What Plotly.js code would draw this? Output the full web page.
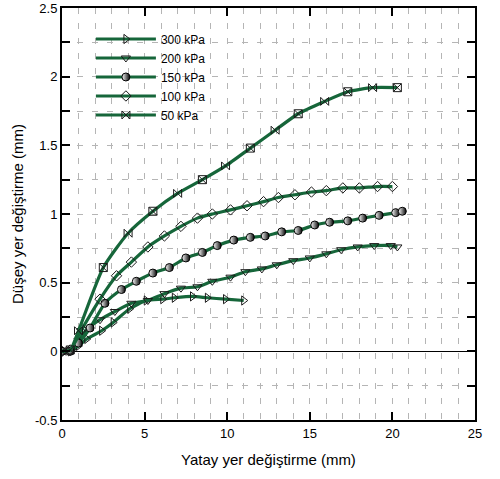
<!DOCTYPE html>
<html><head><meta charset="utf-8">
<script src="https://cdn.plot.ly/plotly-3.0.1.min.js"></script>
<style>html,body{margin:0;padding:0;background:#fff}#c{width:500px;height:479px}</style>
</head><body><div id="c"></div>
<script>
const names = ["300 kPa","200 kPa","150 kPa","100 kPa","50 kPa"];
const x300 = [0,0.5,1.0,1.5,2.4,3.1,4.1,5.1,6.1,6.8,7.9,8.8,9.9,11.0];
const y300 = [0,0.0,0.04,0.09,0.15,0.21,0.31,0.37,0.38,0.39,0.40,0.39,0.38,0.37];
const x200 = [0,0.5,1.0,1.5,2.3,3.2,4.2,5.2,6.2,7.2,8.2,9.1,10.2,11.1,12.1,13.0,14.0,15.0,16.0,16.9,17.9,18.9,19.9,20.3];
const y200 = [0,0.0,0.08,0.16,0.23,0.29,0.35,0.37,0.42,0.46,0.47,0.51,0.54,0.58,0.60,0.63,0.66,0.68,0.71,0.74,0.76,0.77,0.77,0.76];
const x150 = [0,0.5,1.0,1.7,2.6,3.6,4.5,5.5,6.5,7.5,8.5,9.4,10.4,11.4,12.3,13.3,14.3,15.3,16.2,17.3,18.2,19.2,20.2,20.6];
const y150 = [0,0.0,0.06,0.17,0.35,0.45,0.51,0.57,0.61,0.68,0.72,0.77,0.81,0.83,0.84,0.87,0.88,0.92,0.94,0.95,0.97,0.99,1.01,1.02];
const x100 = [0,0.5,1.2,2.3,3.3,4.2,5.2,6.2,7.2,8.2,9.1,10.2,11.2,12.2,13.1,14.1,15.1,16.0,17.0,18.0,19.1,20.0];
const y100 = [0,0.01,0.16,0.38,0.55,0.65,0.76,0.84,0.91,0.97,1.00,1.03,1.06,1.09,1.12,1.14,1.16,1.17,1.19,1.19,1.20,1.20];
const x50 = [0,0.5,1.0,2.5,4.0,5.5,7.0,8.5,9.9,11.4,12.9,14.3,15.9,17.3,18.8,20.3];
const y50 = [0,0.01,0.15,0.61,0.86,1.02,1.15,1.25,1.35,1.48,1.61,1.73,1.82,1.89,1.92,1.92];
const xTickVals = [0,5,10,15,20,25];
const yTickVals = [-0.5,0,0.5,1,1.5,2,2.5];

const green = "#16663a";
function tr(name, x, y, marker, lw) {
  return {x: x, y: y, name: name, type: "scatter", mode: "lines+markers",
    line: {color: green, width: lw, shape: "spline", smoothing: 0.6}, marker: marker};
}
const openM = (sym) => ({symbol: sym, size: 8, color: "#1a1a1a", line: {width: 1}});
const data = [
  tr(names[0], x300, y300, openM("triangle-right-open"), 3.2),
  tr(names[1], x200, y200, openM("triangle-down-open"), 3.2),
  tr(names[2], x150, y150, {symbol: "circle", size: 8, color: "white",
      gradient: {type: "horizontal", color: "black"}, line: {color: "#000", width: 1}}, 3.2),
  tr(names[3], x100, y100, openM("diamond-open"), 3.2),
  tr(names[4], x50, y50, openM(x50.map((v,i)=> i%2 ? "square-x-open" : "bowtie-open")), 3.2)
];

const gridDash = "6px,9px";
const layout = {
  width: 500, height: 479,
  margin: {l: 62, r: 25, t: 8, b: 59},
  paper_bgcolor: "white", plot_bgcolor: "white",
  font: {family: "Liberation Sans, Arial, sans-serif", color: "#000"},
  showlegend: true,
  legend: {x: 0.07, y: 0.96, xanchor: "left", yanchor: "top", bgcolor: "rgba(0,0,0,0)",
    font: {size: 12, color: "#000"}, itemwidth: 60, tracegroupgap: 0},
  xaxis: {range: [0, 25], tickvals: xTickVals, ticktext: xTickVals.map(String),
    ticks: "inside", ticklen: 8, tickwidth: 2, tickcolor: "#000",
    showline: true, linecolor: "#000", linewidth: 2, mirror: "ticks",
    showgrid: true, gridcolor: "#b5b5b5", griddash: gridDash, gridwidth: 1,
    minor: {dtick: 1, showgrid: true, gridcolor: "#b5b5b5", griddash: gridDash, gridwidth: 1, ticks: ""},
    zeroline: false, tickfont: {size: 13},
    title: {text: "Yatay yer değiştirme (mm)", font: {size: 15}, standoff: 15}},
  yaxis: {range: [-0.5, 2.5], tickvals: yTickVals, ticktext: yTickVals.map(String),
    ticks: "inside", ticklen: 8, tickwidth: 2, tickcolor: "#000",
    showline: true, linecolor: "#000", linewidth: 2, mirror: "ticks",
    showgrid: true, gridcolor: "#b5b5b5", griddash: gridDash, gridwidth: 1,
    minor: {dtick: 0.25, showgrid: true, gridcolor: "#b5b5b5", griddash: gridDash, gridwidth: 1, ticks: "inside", ticklen: 8, tickwidth: 2, tickcolor: "#000"},
    zeroline: true, zerolinecolor: "#000", zerolinewidth: 1, tickfont: {size: 13},
    title: {text: "Düşey yer değiştirme (mm)", font: {size: 15}, standoff: 8}}
};
Plotly.newPlot("c", data, layout, {displayModeBar: false, staticPlot: true});
</script></body></html>
